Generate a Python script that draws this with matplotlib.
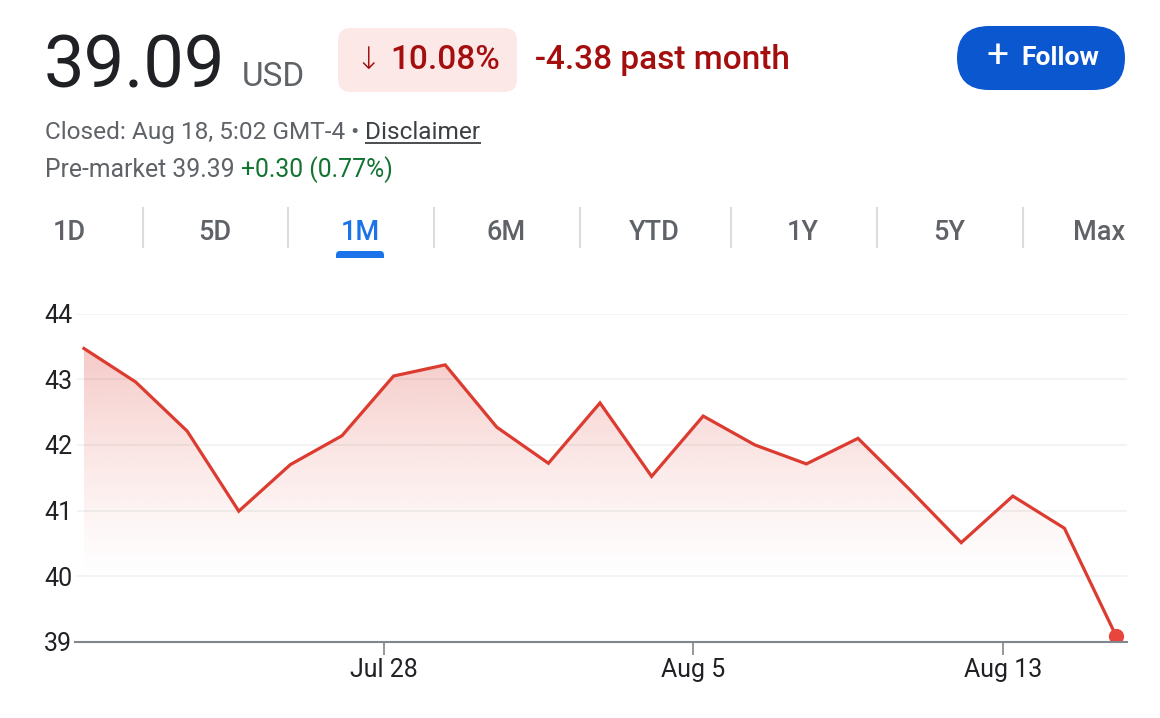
import matplotlib
matplotlib.use("Agg")
import matplotlib.pyplot as plt
import numpy as np
from matplotlib.patches import FancyBboxPatch, Polygon, Rectangle
from matplotlib.colors import to_rgb

# ---------------- data ----------------
dates = ["Jul 18", "Jul 21", "Jul 22", "Jul 23", "Jul 24", "Jul 25",
         "Jul 28", "Jul 29", "Jul 30", "Jul 31", "Aug 1",
         "Aug 4", "Aug 5", "Aug 6", "Aug 7", "Aug 8",
         "Aug 11", "Aug 12", "Aug 13", "Aug 14", "Aug 15"]
prices = [43.47, 42.96, 42.21, 40.99, 41.70, 42.14,
          43.05, 43.22, 42.27, 41.72, 42.64,
          41.52, 42.44, 42.00, 41.71, 42.10,
          41.32, 40.51, 41.22, 40.73, 39.09]
x_tick_labels = ["Jul 28", "Aug 5", "Aug 13"]
y_ticks = [39, 40, 41, 42, 43, 44]
tabs = ["1D", "5D", "1M", "6M", "YTD", "1Y", "5Y", "Max"]
active_tab = "1M"

price_text = "39.09"
currency = "USD"
pct_change = "10.08%"
abs_change = "-4.38 past month"
closed_text = "Closed: Aug 18, 5:02 GMT-4 • "
disclaimer = "Disclaimer"
premarket_text = "Pre-market 39.39 "
premarket_change = "+0.30 (0.77%)"

# ---------------- style ----------------
plt.rcParams['font.family'] = ['Roboto', 'DejaVu Sans']
W, H = 1160, 718
DPI = 100
RED = '#d93025'
DARK_RED = '#a50e0e'
GRAY = '#5f6368'
TEXT = '#202124'
GREEN = '#137333'
BLUE = '#0b57d0'
TAB_BLUE = '#1a73e8'

fig = plt.figure(figsize=(W / DPI, H / DPI), dpi=DPI)
fig.patch.set_facecolor('white')

# UI overlay in pixel coordinates (origin top-left)
ui = fig.add_axes([0, 0, 1, 1])
ui.set_xlim(0, W)
ui.set_ylim(H, 0)
ui.axis('off')

ui.text(44, 87, price_text, fontsize=52, color=TEXT, va='baseline', ha='left')
ui.text(242, 86, currency, fontsize=24, color=GRAY, va='baseline', ha='left')

ui.add_patch(FancyBboxPatch((338, 28), 179, 64,
                            boxstyle="round,pad=0,rounding_size=13",
                            fc='#fce8e6', ec='none'))
ui.text(355, 69, "↓", fontsize=22, color=DARK_RED, fontweight='light',
        va='baseline', ha='left', family=['DejaVu Sans'])
ui.text(390, 69, pct_change, fontsize=24, color=DARK_RED,
        fontweight='medium', va='baseline', ha='left')
ui.text(535, 69, abs_change, fontsize=24, color=DARK_RED,
        fontweight='medium', va='baseline', ha='left')

ui.add_patch(FancyBboxPatch((957, 26), 168, 64,
                            boxstyle="round,pad=0,rounding_size=32",
                            fc=BLUE, ec='none'))
ui.text(998, 57, "+", fontsize=28, color='white', fontweight='normal',
        va='center', ha='center')
ui.text(1021, 58, "Follow", fontsize=19, color='white',
        fontweight='bold', va='center', ha='left')

fig.canvas.draw()
renderer = fig.canvas.get_renderer()


def seq_text(x, y, parts, size):
    for s, col, underline in parts:
        t = ui.text(x, y, s, fontsize=size, color=col, va='baseline', ha='left')
        bb = t.get_window_extent(renderer)
        w = bb.width
        if underline:
            ui.plot([x, x + w], [y + 4, y + 4], color=col, lw=1.3,
                    solid_capstyle='butt')
        x += w


seq_text(45, 139, [(closed_text, GRAY, False), (disclaimer, '#3c4043', True)], 17.6)
seq_text(45, 177, [(premarket_text, GRAY, False), (premarket_change, GREEN, False)], 17.8)

tab_centers = [69, 215, 360, 506, 654, 803, 949, 1099]
dividers = [142.5, 288, 434, 579.5, 731, 877, 1023]
for lab, cx in zip(tabs, tab_centers):
    col = TAB_BLUE if lab == active_tab else GRAY
    ui.text(cx, 232, lab, fontsize=19.5, color=col, fontweight='medium',
            va='center', ha='center')
    if lab == active_tab:
        ui.add_patch(FancyBboxPatch((cx - 24, 251), 48, 10,
                                    boxstyle="round,pad=0,rounding_size=4",
                                    fc=TAB_BLUE, ec='none'))
        ui.add_patch(Rectangle((cx - 24, 258), 48, 6, fc='white', ec='none'))
for dx in dividers:
    ui.plot([dx, dx], [208, 247], color='#dadce0', lw=1.5)

# ---------------- chart ----------------
left_px, right_px = 75, 1127
top_px, bot_px = 313.7, 641.7
ax = fig.add_axes([left_px / W, 1 - bot_px / H,
                   (right_px - left_px) / W, (bot_px - top_px) / H])
ax.set_facecolor('none')

x = np.arange(len(prices))
xmin, xmax = -0.174, len(prices) - 1 + 0.213
ymin, ymax = y_ticks[0], y_ticks[-1]

# gradient fill clipped to the area under the line
verts = [(x[0], ymin)] + list(zip(x, prices)) + [(x[-1], ymin)]
poly = Polygon(verts, closed=True, fc='none', ec='none')
ax.add_patch(poly)
yy = np.linspace(ymax, ymin, 300)
alpha = 0.26 * np.clip((yy - 39.9) / (43.5 - 39.9), 0, 1) ** 1.3
img = np.zeros((len(yy), 1, 4))
img[..., :3] = to_rgb(RED)
img[:, 0, 3] = alpha
im = ax.imshow(img, extent=[xmin, xmax, ymin, ymax], aspect='auto',
               origin='upper', zorder=1, interpolation='bilinear')
im.set_clip_path(poly)

ax.plot(x, prices, color='#dc3b30', lw=2.3, zorder=3, solid_joinstyle='miter')
ax.plot(x[-1], prices[-1], 'o', color='#e8453c', markersize=11, zorder=4,
        markeredgewidth=0)

ax.set_xlim(xmin, xmax)
ax.set_ylim(ymin, ymax)

for s in ['top', 'right', 'left']:
    ax.spines[s].set_visible(False)
ax.spines['bottom'].set_color('#80868b')
ax.spines['bottom'].set_linewidth(1.5)
ax.spines['bottom'].set_zorder(5)

ax.set_yticks(y_ticks)
ax.set_yticklabels([str(v) for v in y_ticks])
ax.tick_params(axis='y', length=0, pad=2, labelsize=18, labelcolor=TEXT)
for v in y_ticks[1:]:
    ax.axhline(v, xmin=3 / (right_px - left_px), color='#f1f3f4', lw=1.4, zorder=0)

tick_pos = [dates.index(d) - 0.19 for d in x_tick_labels]
ax.set_xticks(tick_pos)
ax.set_xticklabels(x_tick_labels)
ax.tick_params(axis='x', length=9.5, width=1.2, color='#80868b', pad=2,
               labelsize=18, labelcolor=TEXT)

fig.savefig("out.png", dpi=DPI, facecolor='white')
